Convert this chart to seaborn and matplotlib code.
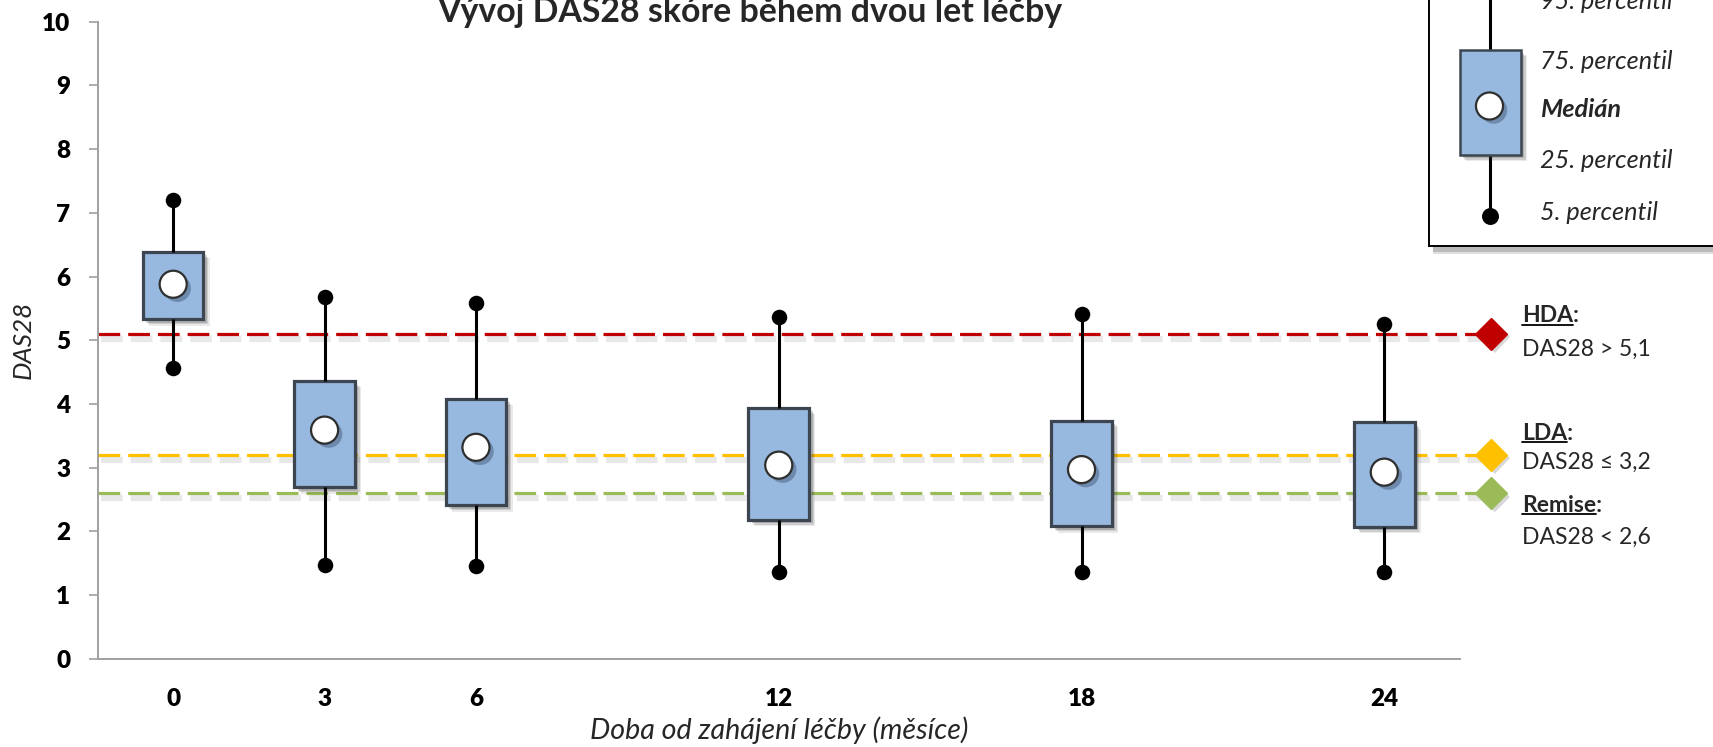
import numpy as np
import pandas as pd
import seaborn as sns
import matplotlib
matplotlib.use("Agg")
import matplotlib.pyplot as plt
from matplotlib import patheffects as pe
from matplotlib.patches import Rectangle
from matplotlib.lines import Line2D

# DAS28 percentiles at each visit (months since start of therapy)
months = ["0", "3", "6", "12", "18", "24"]
slots = [0, 1, 2, 4, 6, 8]          # position on the 9-slot time axis
p05 = [4.57, 1.48, 1.45, 1.36, 1.36, 1.36]
p25 = [5.33, 2.69, 2.41, 2.18, 2.08, 2.07]
p50 = [5.88, 3.59, 3.32, 3.04, 2.97, 2.93]
p75 = [6.39, 4.36, 4.08, 3.94, 3.74, 3.71]
p95 = [7.21, 5.68, 5.58, 5.37, 5.42, 5.25]

# disease-activity thresholds
thr_names = ["HDA", "LDA", "Remise"]
thr_texts = ["DAS28 > 5,1", "DAS28 \u2264 3,2", "DAS28 < 2,6"]
thr_values = [5.1, 3.2, 2.6]
thr_colors = ["#C00000", "#FFC000", "#9BBB59"]

legend_labels = ["95. percentil", "75. percentil", "Medián", "25. percentil", "5. percentil"]

title = "Vývoj DAS28 skóre během dvou let léčby"
xlabel = "Doba od zahájení léčby (měsíce)"
ylabel = "DAS28"

sns.set_theme(style="white")
plt.rcParams["font.family"] = ["Lato", "DejaVu Sans"]

W, H = 1713, 747
fig = plt.figure(figsize=(W / 100, H / 100), dpi=100)


def px(x, y):
    """figure pixel (from top-left) -> figure fraction"""
    return x / W, 1 - y / H


ax_l, ax_r, ax_t, ax_b = 97.5, 1460.0, 21.8, 658.8
ax = fig.add_axes([ax_l / W, 1 - ax_b / H, (ax_r - ax_l) / W, (ax_b - ax_t) / H])

# long-format table: five summary values per visit
rows = []
for s, a, b, c, d, e in zip(slots, p05, p25, p50, p75, p95):
    for v in (a, b, c, d, e):
        rows.append({"slot": s, "DAS28": v})
df = pd.DataFrame(rows)

GRAY = "#A0A0A0"

# threshold lines with end diamonds
x_end = 8.705
line_shadow = [pe.SimpleLineShadow(offset=(2.5, -3.5), shadow_color="0.6", alpha=0.22, linewidth=4.5),
               pe.Normal()]
for val, col in zip(thr_values, thr_colors):
    ax.plot([-0.5, x_end - 0.08], [val, val], color=col, lw=2.3, ls=(0, (6.8, 2.5)),
            dash_capstyle="butt", clip_on=False, zorder=1, path_effects=line_shadow)
    ax.plot([x_end], [val], marker="D", ms=16, color=col, mec=col, clip_on=False, zorder=6,
            path_effects=[pe.SimplePatchShadow(offset=(2.5, -2.5), shadow_rgbFace="0.5", alpha=0.3),
                          pe.Normal()])

# boxes: whiskers span 5th-95th percentile, box 25th-75th
sns.boxplot(data=df, x="slot", y="DAS28", orient="x", native_scale=True, whis=(0, 100),
            width=0.4, color="#97B8DF", saturation=1, linecolor="#3D4650", linewidth=2.3,
            showcaps=False, fliersize=0,
            whiskerprops={"color": "black", "linewidth": 2.2},
            medianprops={"visible": False}, zorder=2, ax=ax)

box_shadow = [pe.SimplePatchShadow(offset=(4.5, -4.5), shadow_rgbFace="0.2", alpha=0.10),
              pe.SimplePatchShadow(offset=(3.5, -3.5), shadow_rgbFace="0.2", alpha=0.15),
              pe.SimplePatchShadow(offset=(2.5, -2.5), shadow_rgbFace="0.2", alpha=0.20),
              pe.Normal()]
for p in ax.patches:
    p.set_path_effects(box_shadow)

# whisker ends
sns.scatterplot(x=slots, y=p95, color="black", s=125, edgecolor="black", linewidth=0, zorder=4, ax=ax)
sns.scatterplot(x=slots, y=p05, color="black", s=125, edgecolor="black", linewidth=0, zorder=4, ax=ax)
# medians
sns.scatterplot(x=slots, y=p50, color="white", s=380, edgecolor="#2F2F2F", linewidth=1.6,
                zorder=5, ax=ax)
ax.collections[-1].set_path_effects(
    [pe.SimplePatchShadow(offset=(3, -3), shadow_rgbFace="#1F3550", alpha=0.35), pe.Normal()])

# axes styling
ax.set_xlim(-0.5, 8.5)
ax.set_ylim(0, 10)
ax.set_xticks(slots)
ax.set_xticklabels(months)
ax.set_xticks(np.arange(-0.5, 9.0, 1.0), minor=True)
ax.set_yticks(range(0, 11))
ax.set_xlabel("")
ax.set_ylabel("")
for side in ("top", "right"):
    ax.spines[side].set_visible(False)
for side in ("left", "bottom"):
    ax.spines[side].set_color(GRAY)
    ax.spines[side].set_linewidth(1.4)
ax.tick_params(axis="x", which="major", length=0, pad=21)
ax.tick_params(axis="x", which="minor", length=6.3, width=1.2, color=GRAY, direction="out")
ax.tick_params(axis="y", length=6.5, width=1.2, color=GRAY, direction="out", pad=13)
ax.tick_params(axis="both", which="major", left=True, bottom=False)
for lab in ax.get_xticklabels() + ax.get_yticklabels():
    lab.set_fontweight("heavy")
    lab.set_fontsize(17.5)
    lab.set_color("black")

# texts
t_title = fig.text(*px(750, 22), title, ha="center", va="baseline", fontweight="bold", fontsize=24)
t_xl = fig.text(*px(779, 730), xlabel, ha="center", va="center", style="italic", fontsize=16)
t_yl = fig.text(*px(23, 340), ylabel, ha="center", va="center", style="italic", fontsize=16,
                rotation=90)

renderer = fig.canvas.get_renderer()


def fit(t, target, vertical=False):
    bb = t.get_window_extent(renderer)
    cur = bb.height if vertical else bb.width
    t.set_fontsize(t.get_fontsize() * target / cur)


fit(t_title, 625)
fit(t_xl, 379)
fit(t_yl, 78, vertical=True)

# threshold captions at right
head_base = [322, 439.5, 511.5]
val_base = [356, 468.5, 543.5]
lab_x = 1522
probe = fig.text(0, 0, thr_texts[0], fontsize=16)
fit(probe, 129)
cap_size = probe.get_fontsize()
probe.remove()
for name, txt, hb, vb in zip(thr_names, thr_texts, head_base, val_base):
    fig.text(*px(lab_x, hb), name + ":", ha="left", va="baseline",
             fontweight="bold", fontsize=cap_size)
    part = fig.text(*px(lab_x, hb), name, ha="left", va="baseline",
                    fontweight="bold", fontsize=cap_size, alpha=0)
    wname = part.get_window_extent(renderer).width
    part.remove()
    fig.add_artist(Line2D([lab_x / W, (lab_x + wname) / W], [1 - (hb + 2.5) / H] * 2,
                          color="black", lw=1.3, transform=fig.transFigure))
    fig.text(*px(lab_x, vb), txt, ha="left", va="baseline", fontsize=cap_size)

# key for the box symbol, top right
lx0, ly0 = 1429, 246
lax = fig.add_axes([lx0 / W, 1 - ly0 / H, (W + 60 - lx0) / W, (ly0 + 60) / H])
lax.set_xlim(lx0, W + 60)
lax.set_ylim(ly0, -60)
lax.set_xticks([])
lax.set_yticks([])
for sp in lax.spines.values():
    sp.set_color("black")
    sp.set_linewidth(1.4)
lax.patch.set_facecolor("white")
lax.patch.set_path_effects([pe.SimplePatchShadow(offset=(3, -6), shadow_rgbFace="0.5", alpha=0.25),
                            pe.SimplePatchShadow(offset=(3, -4), shadow_rgbFace="0.4", alpha=0.30),
                            pe.Normal()])
kx = 1489.5
lax.plot([kx, kx], [-60, 216], color="black", lw=2.2, zorder=1)
lax.add_patch(Rectangle((1459.5, 50), 61.5, 105, facecolor="#97B8DF", edgecolor="#3D4650",
                        lw=1.8, zorder=2, path_effects=box_shadow))
lax.scatter([kx], [216], s=125, color="black", zorder=3)
lax.scatter([kx], [106], s=380, color="white", edgecolors="#2F2F2F", linewidths=1.6, zorder=4,
            path_effects=[pe.SimplePatchShadow(offset=(3, -3), shadow_rgbFace="#1F3550", alpha=0.35),
                          pe.Normal()])
key_base = [9.5, 69, 117, 168, 220]
probe = lax.text(1540, 69, legend_labels[1], fontsize=15, style="italic")
fit(probe, 133)
key_size = probe.get_fontsize()
probe.remove()
for lab, yb in zip(legend_labels, key_base):
    lax.text(1540, yb, lab, ha="left", va="baseline", style="italic", fontsize=key_size,
             fontweight="bold" if lab == "Medián" else "normal", clip_on=False)

fig.savefig("out.png", dpi=100)
